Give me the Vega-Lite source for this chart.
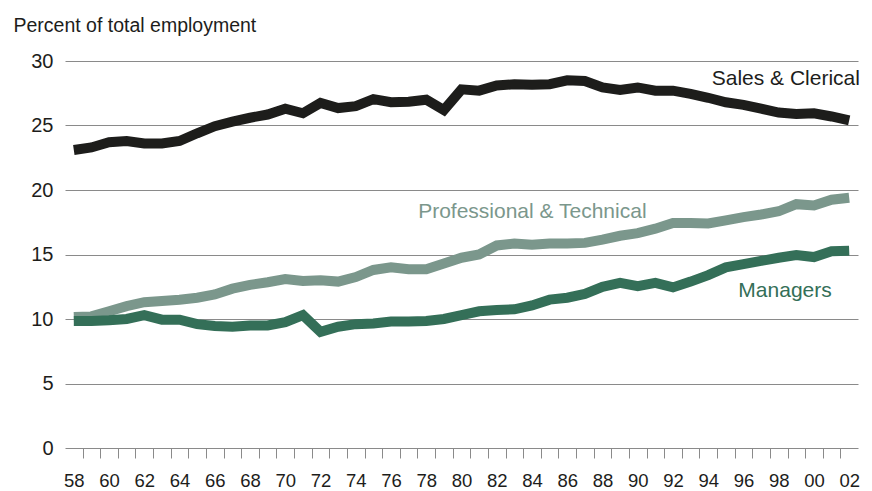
{
  "$schema": "https://vega.github.io/schema/vega-lite/v6.json",
  "width": 793,
  "height": 387,
  "autosize": {"type": "none"},
  "padding": {"left": 65, "top": 61, "right": 14, "bottom": 43},
  "background": "white",
  "config": {"view": {"stroke": null}, "font": "Liberation Sans"},
  "encoding": {
    "y": {
      "field": "value",
      "type": "quantitative",
      "scale": {"domain": [0, 30], "nice": false, "zero": true},
      "axis": {
        "values": [0, 5, 10, 15, 20, 25, 30],
        "title": "Percent of total employment",
        "titleAngle": 0,
        "titleAlign": "left",
        "titleBaseline": "alphabetic",
        "titleX": -52,
        "titleY": -30,
        "titleFont": "Liberation Sans",
        "titleFontSize": 19.5,
        "titleFontWeight": "normal",
        "titleColor": "#1d1d1b",
        "labelFont": "Liberation Sans",
        "labelFontSize": 20,
        "labelColor": "#1d1d1b",
        "labelPadding": 12,
        "ticks": false,
        "domain": false,
        "grid": true,
        "gridColor": "#8a8a8a",
        "gridWidth": 1
      }
    }
  },
  "layer": [
    {
      "data": {"values": [
        {"year": 1958, "series": "Sales & Clerical", "value": 23.1},
        {"year": 1959, "series": "Sales & Clerical", "value": 23.3},
        {"year": 1960, "series": "Sales & Clerical", "value": 23.7},
        {"year": 1961, "series": "Sales & Clerical", "value": 23.8},
        {"year": 1962, "series": "Sales & Clerical", "value": 23.6},
        {"year": 1963, "series": "Sales & Clerical", "value": 23.6},
        {"year": 1964, "series": "Sales & Clerical", "value": 23.8},
        {"year": 1965, "series": "Sales & Clerical", "value": 24.4},
        {"year": 1966, "series": "Sales & Clerical", "value": 24.95},
        {"year": 1967, "series": "Sales & Clerical", "value": 25.3},
        {"year": 1968, "series": "Sales & Clerical", "value": 25.6},
        {"year": 1969, "series": "Sales & Clerical", "value": 25.85},
        {"year": 1970, "series": "Sales & Clerical", "value": 26.3},
        {"year": 1971, "series": "Sales & Clerical", "value": 25.95},
        {"year": 1972, "series": "Sales & Clerical", "value": 26.75},
        {"year": 1973, "series": "Sales & Clerical", "value": 26.35},
        {"year": 1974, "series": "Sales & Clerical", "value": 26.5},
        {"year": 1975, "series": "Sales & Clerical", "value": 27.05},
        {"year": 1976, "series": "Sales & Clerical", "value": 26.8},
        {"year": 1977, "series": "Sales & Clerical", "value": 26.85},
        {"year": 1978, "series": "Sales & Clerical", "value": 27.0},
        {"year": 1979, "series": "Sales & Clerical", "value": 26.2},
        {"year": 1980, "series": "Sales & Clerical", "value": 27.8},
        {"year": 1981, "series": "Sales & Clerical", "value": 27.7},
        {"year": 1982, "series": "Sales & Clerical", "value": 28.1},
        {"year": 1983, "series": "Sales & Clerical", "value": 28.2},
        {"year": 1984, "series": "Sales & Clerical", "value": 28.15},
        {"year": 1985, "series": "Sales & Clerical", "value": 28.2},
        {"year": 1986, "series": "Sales & Clerical", "value": 28.5},
        {"year": 1987, "series": "Sales & Clerical", "value": 28.45},
        {"year": 1988, "series": "Sales & Clerical", "value": 27.95},
        {"year": 1989, "series": "Sales & Clerical", "value": 27.75},
        {"year": 1990, "series": "Sales & Clerical", "value": 27.95},
        {"year": 1991, "series": "Sales & Clerical", "value": 27.7},
        {"year": 1992, "series": "Sales & Clerical", "value": 27.7},
        {"year": 1993, "series": "Sales & Clerical", "value": 27.45},
        {"year": 1994, "series": "Sales & Clerical", "value": 27.15},
        {"year": 1995, "series": "Sales & Clerical", "value": 26.8},
        {"year": 1996, "series": "Sales & Clerical", "value": 26.6},
        {"year": 1997, "series": "Sales & Clerical", "value": 26.3},
        {"year": 1998, "series": "Sales & Clerical", "value": 26.0},
        {"year": 1999, "series": "Sales & Clerical", "value": 25.9},
        {"year": 2000, "series": "Sales & Clerical", "value": 25.95},
        {"year": 2001, "series": "Sales & Clerical", "value": 25.7},
        {"year": 2002, "series": "Sales & Clerical", "value": 25.4},
        {"year": 1958, "series": "Professional & Technical", "value": 10.16},
        {"year": 1959, "series": "Professional & Technical", "value": 10.2},
        {"year": 1960, "series": "Professional & Technical", "value": 10.6},
        {"year": 1961, "series": "Professional & Technical", "value": 11.0},
        {"year": 1962, "series": "Professional & Technical", "value": 11.3},
        {"year": 1963, "series": "Professional & Technical", "value": 11.4},
        {"year": 1964, "series": "Professional & Technical", "value": 11.5},
        {"year": 1965, "series": "Professional & Technical", "value": 11.65},
        {"year": 1966, "series": "Professional & Technical", "value": 11.9},
        {"year": 1967, "series": "Professional & Technical", "value": 12.35},
        {"year": 1968, "series": "Professional & Technical", "value": 12.65},
        {"year": 1969, "series": "Professional & Technical", "value": 12.85},
        {"year": 1970, "series": "Professional & Technical", "value": 13.1},
        {"year": 1971, "series": "Professional & Technical", "value": 12.95},
        {"year": 1972, "series": "Professional & Technical", "value": 13.0},
        {"year": 1973, "series": "Professional & Technical", "value": 12.9},
        {"year": 1974, "series": "Professional & Technical", "value": 13.25},
        {"year": 1975, "series": "Professional & Technical", "value": 13.8},
        {"year": 1976, "series": "Professional & Technical", "value": 14.0},
        {"year": 1977, "series": "Professional & Technical", "value": 13.85},
        {"year": 1978, "series": "Professional & Technical", "value": 13.85},
        {"year": 1979, "series": "Professional & Technical", "value": 14.3},
        {"year": 1980, "series": "Professional & Technical", "value": 14.75},
        {"year": 1981, "series": "Professional & Technical", "value": 15.0},
        {"year": 1982, "series": "Professional & Technical", "value": 15.7},
        {"year": 1983, "series": "Professional & Technical", "value": 15.85},
        {"year": 1984, "series": "Professional & Technical", "value": 15.75},
        {"year": 1985, "series": "Professional & Technical", "value": 15.85},
        {"year": 1986, "series": "Professional & Technical", "value": 15.85},
        {"year": 1987, "series": "Professional & Technical", "value": 15.9},
        {"year": 1988, "series": "Professional & Technical", "value": 16.15},
        {"year": 1989, "series": "Professional & Technical", "value": 16.45},
        {"year": 1990, "series": "Professional & Technical", "value": 16.65},
        {"year": 1991, "series": "Professional & Technical", "value": 17.0},
        {"year": 1992, "series": "Professional & Technical", "value": 17.45},
        {"year": 1993, "series": "Professional & Technical", "value": 17.45},
        {"year": 1994, "series": "Professional & Technical", "value": 17.4},
        {"year": 1995, "series": "Professional & Technical", "value": 17.65},
        {"year": 1996, "series": "Professional & Technical", "value": 17.9},
        {"year": 1997, "series": "Professional & Technical", "value": 18.1},
        {"year": 1998, "series": "Professional & Technical", "value": 18.35},
        {"year": 1999, "series": "Professional & Technical", "value": 18.9},
        {"year": 2000, "series": "Professional & Technical", "value": 18.8},
        {"year": 2001, "series": "Professional & Technical", "value": 19.25},
        {"year": 2002, "series": "Professional & Technical", "value": 19.4},
        {"year": 1958, "series": "Managers", "value": 9.85},
        {"year": 1959, "series": "Managers", "value": 9.85},
        {"year": 1960, "series": "Managers", "value": 9.9},
        {"year": 1961, "series": "Managers", "value": 10.0},
        {"year": 1962, "series": "Managers", "value": 10.3},
        {"year": 1963, "series": "Managers", "value": 9.95},
        {"year": 1964, "series": "Managers", "value": 9.95},
        {"year": 1965, "series": "Managers", "value": 9.6},
        {"year": 1966, "series": "Managers", "value": 9.45},
        {"year": 1967, "series": "Managers", "value": 9.4},
        {"year": 1968, "series": "Managers", "value": 9.5},
        {"year": 1969, "series": "Managers", "value": 9.5},
        {"year": 1970, "series": "Managers", "value": 9.75},
        {"year": 1971, "series": "Managers", "value": 10.3},
        {"year": 1972, "series": "Managers", "value": 9.0},
        {"year": 1973, "series": "Managers", "value": 9.4},
        {"year": 1974, "series": "Managers", "value": 9.6},
        {"year": 1975, "series": "Managers", "value": 9.65},
        {"year": 1976, "series": "Managers", "value": 9.8},
        {"year": 1977, "series": "Managers", "value": 9.8},
        {"year": 1978, "series": "Managers", "value": 9.85},
        {"year": 1979, "series": "Managers", "value": 10.0},
        {"year": 1980, "series": "Managers", "value": 10.3},
        {"year": 1981, "series": "Managers", "value": 10.6},
        {"year": 1982, "series": "Managers", "value": 10.7},
        {"year": 1983, "series": "Managers", "value": 10.75},
        {"year": 1984, "series": "Managers", "value": 11.05},
        {"year": 1985, "series": "Managers", "value": 11.5},
        {"year": 1986, "series": "Managers", "value": 11.65},
        {"year": 1987, "series": "Managers", "value": 11.95},
        {"year": 1988, "series": "Managers", "value": 12.5},
        {"year": 1989, "series": "Managers", "value": 12.8},
        {"year": 1990, "series": "Managers", "value": 12.55},
        {"year": 1991, "series": "Managers", "value": 12.8},
        {"year": 1992, "series": "Managers", "value": 12.45},
        {"year": 1993, "series": "Managers", "value": 12.9},
        {"year": 1994, "series": "Managers", "value": 13.4},
        {"year": 1995, "series": "Managers", "value": 14.0},
        {"year": 1996, "series": "Managers", "value": 14.25},
        {"year": 1997, "series": "Managers", "value": 14.5},
        {"year": 1998, "series": "Managers", "value": 14.75},
        {"year": 1999, "series": "Managers", "value": 14.95},
        {"year": 2000, "series": "Managers", "value": 14.8},
        {"year": 2001, "series": "Managers", "value": 15.25},
        {"year": 2002, "series": "Managers", "value": 15.3}
      ]},
      "mark": {"type": "line", "strokeWidth": 10, "strokeJoin": "miter", "strokeCap": "butt"},
      "encoding": {
        "x": {
          "field": "year",
          "type": "quantitative",
          "scale": {"domain": [1957.5, 2002.5], "nice": false, "zero": false},
          "axis": {
            "orient": "bottom",
            "values": [1958, 1960, 1962, 1964, 1966, 1968, 1970, 1972, 1974, 1976, 1978, 1980, 1982, 1984, 1986, 1988, 1990, 1992, 1994, 1996, 1998, 2000, 2002],
            "labelExpr": "substring(toString(datum.value), 2, 4)",
            "labelFont": "Liberation Sans Narrow, Arial Narrow, Liberation Sans",
            "labelFontSize": 18.5,
            "labelColor": "#1d1d1b",
            "labelPadding": 23,
            "labelOverlap": false,
            "labelFlush": false,
            "ticks": false,
            "domain": false,
            "grid": false,
            "title": null
          }
        },
        "color": {
          "field": "series",
          "type": "nominal",
          "scale": {"domain": ["Sales & Clerical", "Professional & Technical", "Managers"], "range": ["#1d1d1b", "#7b978c", "#346f58"]},
          "legend": null
        },
        "detail": {"field": "series"}
      }
    },
    {
      "data": {"values": [
        {"year": 1994.2, "value": 28.15, "series": "Sales & Clerical"},
        {"year": 1977.54, "value": 17.86, "series": "Professional & Technical"},
        {"year": 1995.71, "value": 11.71, "series": "Managers"}
      ]},
      "mark": {"type": "text", "align": "left", "baseline": "alphabetic", "font": "Liberation Sans", "fontSize": 21},
      "encoding": {
        "x": {
          "field": "year",
          "type": "quantitative",
          "scale": {"domain": [1957.5, 2002.5], "nice": false, "zero": false},
          "axis": {
            "orient": "bottom",
            "values": [1958.5, 1959.5, 1960.5, 1961.5, 1962.5, 1963.5, 1964.5, 1965.5, 1966.5, 1967.5, 1968.5, 1969.5, 1970.5, 1971.5, 1972.5, 1973.5, 1974.5, 1975.5, 1976.5, 1977.5, 1978.5, 1979.5, 1980.5, 1981.5, 1982.5, 1983.5, 1984.5, 1985.5, 1986.5, 1987.5, 1988.5, 1989.5, 1990.5, 1991.5, 1992.5, 1993.5, 1994.5, 1995.5, 1996.5, 1997.5, 1998.5, 1999.5, 2000.5, 2001.5],
            "labels": false,
            "ticks": true,
            "tickSize": 10,
            "tickColor": "#8a8a8a",
            "tickWidth": 1,
            "domain": false,
            "grid": false,
            "title": null
          }
        },
        "text": {"field": "series"},
        "color": {
          "field": "series",
          "type": "nominal",
          "scale": {"domain": ["Sales & Clerical", "Professional & Technical", "Managers"], "range": ["#1d1d1b", "#7b978c", "#346f58"]},
          "legend": null
        }
      }
    }
  ],
  "resolve": {"axis": {"x": "independent"}}
}
